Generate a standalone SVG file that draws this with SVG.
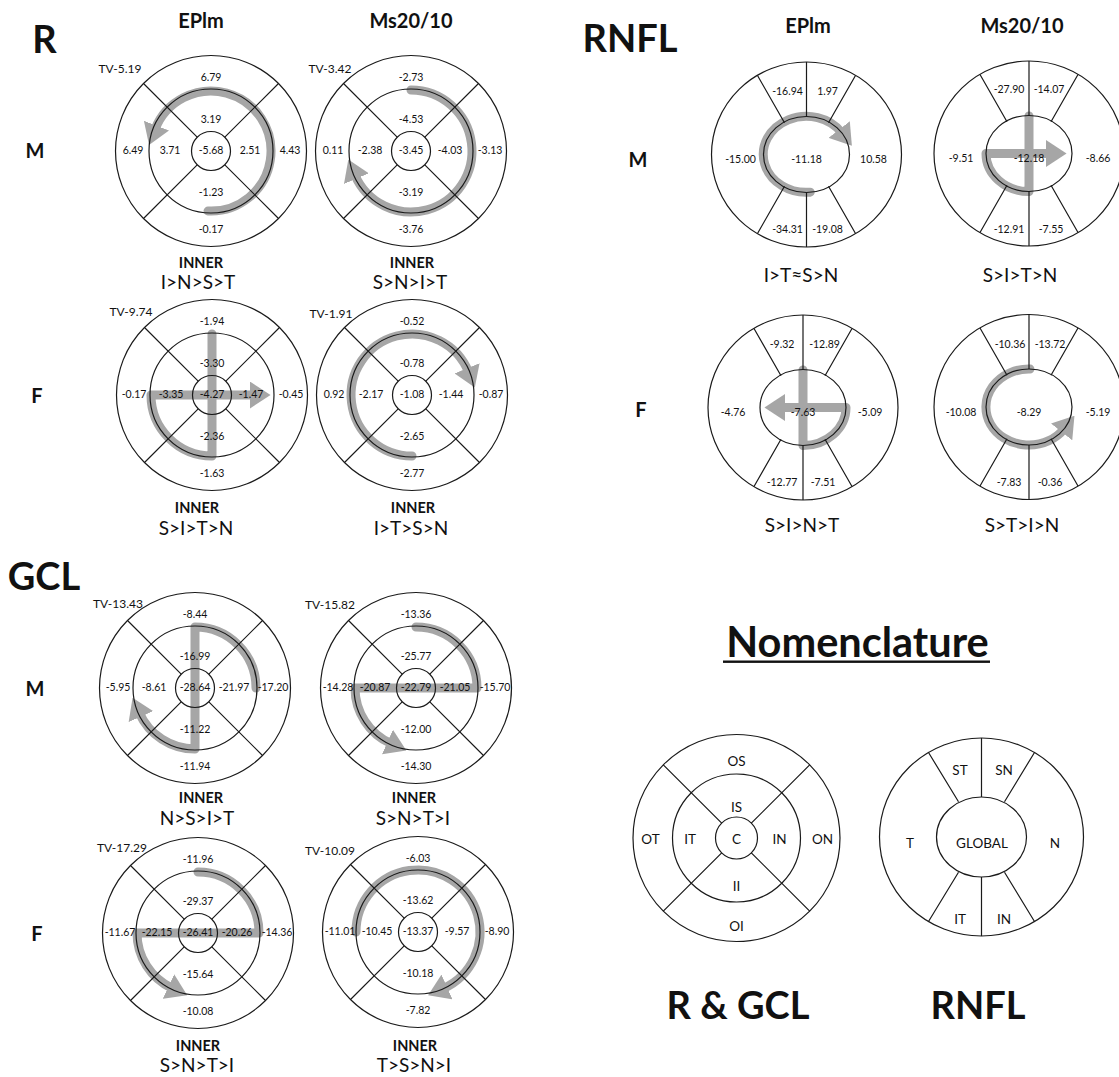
<svg xmlns="http://www.w3.org/2000/svg" width="1119" height="1077" viewBox="0 0 1119 1077">
<style>
.arw{fill:none;stroke:#a6a6a6;stroke-width:9;stroke-linecap:round;stroke-linejoin:round;marker-end:url(#ah)}
text{font-family:Lato,"Open Sans","Liberation Sans",sans-serif;fill:#111;text-anchor:middle;dominant-baseline:central}
.n{font-size:10.5px}
.tv{font-size:12px}
.big{font-size:38px;font-weight:bold}
.col{font-size:20px;font-weight:bold}
.row{font-size:20px;font-weight:bold}
.inr{font-size:14.5px;font-weight:bold}
.rk{font-size:19px}
.nm{font-size:13.5px}
</style>
<defs>
<marker id="ah" viewBox="0 0 10 10" refX="2" refY="5" markerWidth="2.3" markerHeight="3" orient="auto" markerUnits="strokeWidth" preserveAspectRatio="none"><path d="M0,0L10,5L0,10z" fill="#a6a6a6"/></marker>
<g id="ring4" fill="none" stroke="#1a1a1a" stroke-width="1.2">
<circle r="95.5"/><circle r="62"/><circle r="19.5"/>
<path d="M13.8,-13.8L67.5,-67.5M-13.8,-13.8L-67.5,-67.5M13.8,13.8L67.5,67.5M-13.8,13.8L-67.5,67.5"/>
</g>
<g id="ringN" fill="none" stroke="#1a1a1a" stroke-width="1.2">
<ellipse rx="95" ry="92.5"/><ellipse rx="43" ry="38"/>
<path d="M0,-38V-92.5M0,38V92.5M-22,-31.8L-49,-79M22,-31.8L49,-79M-22,31.8L-49,79M22,31.8L49,79"/>
</g>
</defs>
<rect width="1119" height="1077" fill="#fff"/>

<!-- Section titles -->
<text class="big" x="44.5" y="38">R</text>
<text class="big" x="44" y="575">GCL</text>
<text class="big" x="630" y="37">RNFL</text>
<text class="col" x="201" y="20">EPlm</text>
<text class="col" x="411" y="20">Ms20/10</text>
<text class="col" x="808" y="25">EPlm</text>
<text class="col" x="1022" y="25">Ms20/10</text>
<text class="row" x="35" y="150">M</text>
<text class="row" x="37" y="395">F</text>
<text class="row" x="35" y="688">M</text>
<text class="row" x="37" y="933">F</text>
<text class="row" x="638" y="159">M</text>
<text class="row" x="641" y="409">F</text>

<!-- R M EPlm -->
<g id="r-m-eplm">
<g transform="translate(211,151)">
<path class="arw" d="M-3,60A60,60 0 1 0 -56,-21.5"/>
<use href="#ring4"/>
<text class="n" x="0" y="-74">6.79</text><text class="n" x="0" y="-32">3.19</text>
<text class="n" x="-78" y="-1">6.49</text><text class="n" x="-41" y="-1">3.71</text>
<text class="n" x="0" y="-1">-5.68</text><text class="n" x="39" y="-1">2.51</text>
<text class="n" x="79" y="-1">4.43</text><text class="n" x="0" y="41">-1.23</text>
<text class="n" x="0" y="78">-0.17</text>
</g>
<text class="tv" x="120" y="68">TV-5.19</text>
<text class="inr" x="201" y="262">INNER</text>
<text class="rk" x="198" y="281">I&gt;N&gt;S&gt;T</text>
</g>

<!-- R M Ms -->
<g id="r-m-ms">
<g transform="translate(411,151)">
<path class="arw" d="M0,-61A61,61 0 1 1 -56.2,23.8"/>
<use href="#ring4"/>
<text class="n" x="0" y="-74">-2.73</text><text class="n" x="0" y="-32">-4.53</text>
<text class="n" x="-78" y="-1">0.11</text><text class="n" x="-41" y="-1">-2.38</text>
<text class="n" x="0" y="-1">-3.45</text><text class="n" x="39" y="-1">-4.03</text>
<text class="n" x="79" y="-1">-3.13</text><text class="n" x="0" y="41">-3.19</text>
<text class="n" x="0" y="78">-3.76</text>
</g>
<text class="tv" x="330" y="68">TV-3.42</text>
<text class="inr" x="412" y="262">INNER</text>
<text class="rk" x="410" y="281">S&gt;N&gt;I&gt;T</text>
</g>

<!-- R F EPlm -->
<g id="r-f-eplm">
<g transform="translate(212,395)">
<path class="arw" d="M0,-61L0,61A61,61 0 0 1 -61,0L42,0"/>
<use href="#ring4"/>
<text class="n" x="0" y="-74">-1.94</text><text class="n" x="0" y="-32">-3.30</text>
<text class="n" x="-78" y="-1">-0.17</text><text class="n" x="-41" y="-1">-3.35</text>
<text class="n" x="0" y="-1">-4.27</text><text class="n" x="39" y="-1">-1.47</text>
<text class="n" x="79" y="-1">-0.45</text><text class="n" x="0" y="41">-2.36</text>
<text class="n" x="0" y="78">-1.63</text>
</g>
<text class="tv" x="131" y="311">TV-9.74</text>
<text class="inr" x="197" y="507">INNER</text>
<text class="rk" x="196" y="527">S&gt;I&gt;T&gt;N</text>
</g>

<!-- R F Ms -->
<g id="r-f-ms">
<g transform="translate(412,395)">
<path class="arw" d="M0,61A61,61 0 1 1 56.6,-22.9"/>
<use href="#ring4"/>
<text class="n" x="0" y="-74">-0.52</text><text class="n" x="0" y="-32">-0.78</text>
<text class="n" x="-78" y="-1">0.92</text><text class="n" x="-41" y="-1">-2.17</text>
<text class="n" x="0" y="-1">-1.08</text><text class="n" x="39" y="-1">-1.44</text>
<text class="n" x="79" y="-1">-0.87</text><text class="n" x="0" y="41">-2.65</text>
<text class="n" x="0" y="78">-2.77</text>
</g>
<text class="tv" x="331" y="313">TV-1.91</text>
<text class="inr" x="413" y="507">INNER</text>
<text class="rk" x="411" y="527">I&gt;T&gt;S&gt;N</text>
</g>

<!-- GCL M EPlm -->
<g id="gcl-m-eplm">
<g transform="translate(195,688)">
<path class="arw" d="M61,0A61,61 0 0 0 0,-61L0,61A61,61 0 0 1 -55.7,24.8"/>
<use href="#ring4"/>
<text class="n" x="0" y="-74">-8.44</text><text class="n" x="0" y="-32">-16.99</text>
<text class="n" x="-77" y="-1">-5.95</text><text class="n" x="-41" y="-1">-8.61</text>
<text class="n" x="0" y="-1">-28.64</text><text class="n" x="39" y="-1">-21.97</text>
<text class="n" x="78" y="-1">-17.20</text><text class="n" x="0" y="41">-11.22</text>
<text class="n" x="0" y="78">-11.94</text>
</g>
<text class="tv" x="118" y="603">TV-13.43</text>
<text class="inr" x="201" y="797">INNER</text>
<text class="rk" x="197" y="817">N&gt;S&gt;I&gt;T</text>
</g>

<!-- GCL M Ms -->
<g id="gcl-m-ms">
<g transform="translate(416,688)">
<path class="arw" d="M0,-61A61,61 0 0 1 61,0L-61,0A61,61 0 0 0 -24.8,55.7"/>
<use href="#ring4"/>
<text class="n" x="0" y="-74">-13.36</text><text class="n" x="0" y="-32">-25.77</text>
<text class="n" x="-78" y="-1">-14.28</text><text class="n" x="-41" y="-1">-20.87</text>
<text class="n" x="0" y="-1">-22.79</text><text class="n" x="39" y="-1">-21.05</text>
<text class="n" x="79" y="-1">-15.70</text><text class="n" x="0" y="41">-12.00</text>
<text class="n" x="0" y="78">-14.30</text>
</g>
<text class="tv" x="330" y="604">TV-15.82</text>
<text class="inr" x="414" y="797">INNER</text>
<text class="rk" x="413" y="817">S&gt;N&gt;T&gt;I</text>
</g>

<!-- GCL F EPlm -->
<g id="gcl-f-eplm">
<g transform="translate(198,933)">
<path class="arw" d="M0,-61A61,61 0 0 1 61,0L-61,0A61,61 0 0 0 -25.8,55.3"/>
<use href="#ring4"/>
<text class="n" x="0" y="-74">-11.96</text><text class="n" x="0" y="-32">-29.37</text>
<text class="n" x="-78" y="-1">-11.67</text><text class="n" x="-41" y="-1">-22.15</text>
<text class="n" x="0" y="-1">-26.41</text><text class="n" x="39" y="-1">-20.26</text>
<text class="n" x="79" y="-1">-14.36</text><text class="n" x="0" y="41">-15.64</text>
<text class="n" x="0" y="78">-10.08</text>
</g>
<text class="tv" x="122" y="847">TV-17.29</text>
<text class="inr" x="198" y="1045">INNER</text>
<text class="rk" x="197" y="1064">S&gt;N&gt;T&gt;I</text>
</g>

<!-- GCL F Ms -->
<g id="gcl-f-ms">
<g transform="translate(418,932)">
<path class="arw" d="M-62,0A62,62 0 1 1 25.2,56.6"/>
<use href="#ring4"/>
<text class="n" x="0" y="-74">-6.03</text><text class="n" x="0" y="-32">-13.62</text>
<text class="n" x="-78" y="-1">-11.01</text><text class="n" x="-41" y="-1">-10.45</text>
<text class="n" x="0" y="-1">-13.37</text><text class="n" x="39" y="-1">-9.57</text>
<text class="n" x="79" y="-1">-8.90</text><text class="n" x="0" y="41">-10.18</text>
<text class="n" x="0" y="78">-7.82</text>
</g>
<text class="tv" x="330" y="850">TV-10.09</text>
<text class="inr" x="415" y="1045">INNER</text>
<text class="rk" x="414" y="1064">T&gt;S&gt;N&gt;I</text>
</g>

<!-- RNFL M EPlm -->
<g id="rnfl-m-eplm">
<g transform="translate(806.5,154.5)">
<path class="arw" d="M3.7,37.7A43,38 0 1 1 35.2,-21.7"/>
<use href="#ringN"/>
<text class="n" x="-19" y="-64">-16.94</text><text class="n" x="21" y="-64">1.97</text>
<text class="n" x="-66" y="4.5">-15.00</text><text class="n" x="0" y="4.5">-11.18</text>
<text class="n" x="67" y="4.5">10.58</text>
<text class="n" x="-19" y="74">-34.31</text><text class="n" x="21" y="74">-19.08</text>
</g>
<text class="rk" x="801" y="274">I&gt;T≈S&gt;N</text>
</g>

<!-- RNFL M Ms -->
<g id="rnfl-m-ms">
<g transform="translate(1029,153.5)">
<path class="arw" d="M0,-37.5L0,38A43,38 0 0 1 -43,0L21,0"/>
<use href="#ringN"/>
<text class="n" x="-20" y="-65">-27.90</text><text class="n" x="20" y="-65">-14.07</text>
<text class="n" x="-68" y="4">-9.51</text><text class="n" x="0" y="4">-12.18</text>
<text class="n" x="69" y="4">-8.66</text>
<text class="n" x="-20" y="75">-12.91</text><text class="n" x="22" y="75">-7.55</text>
</g>
<text class="rk" x="1020" y="274">S&gt;I&gt;T&gt;N</text>
</g>

<!-- RNFL F EPlm -->
<g id="rnfl-f-eplm">
<g transform="translate(803,407.5)">
<path class="arw" d="M0,-37.5L0,38A43,38 0 0 0 43,0L-22,0"/>
<use href="#ringN"/>
<text class="n" x="-21" y="-64">-9.32</text><text class="n" x="21.5" y="-64">-12.89</text>
<text class="n" x="-70" y="4.2">-4.76</text><text class="n" x="0" y="4.2">-7.63</text>
<text class="n" x="67" y="4.2">-5.09</text>
<text class="n" x="-21" y="74">-12.77</text><text class="n" x="20" y="74">-7.51</text>
</g>
<text class="rk" x="802" y="524">S&gt;I&gt;N&gt;T</text>
</g>

<!-- RNFL F Ms -->
<g id="rnfl-f-ms">
<g transform="translate(1029,407)">
<path class="arw" d="M1,-38A43,38 0 1 0 35.2,21.7"/>
<use href="#ringN"/>
<text class="n" x="-19" y="-63.5">-10.36</text><text class="n" x="21" y="-63.5">-13.72</text>
<text class="n" x="-68" y="4.7">-10.08</text><text class="n" x="0" y="4.7">-8.29</text>
<text class="n" x="69" y="4.7">-5.19</text>
<text class="n" x="-20" y="75">-7.83</text><text class="n" x="21" y="75">-0.36</text>
</g>
<text class="rk" x="1022" y="524">S&gt;T&gt;I&gt;N</text>
</g>

<!-- Nomenclature -->
<g id="nomenclature-title">
<text x="857.5" y="641" style="font-size:41.5px;font-weight:bold">Nomenclature</text>
<rect x="723" y="660.5" width="267" height="2.4" fill="#111"/>
</g>

<g id="nom-r-gcl">
<g transform="translate(736.5,838)">
<g fill="none" stroke="#1a1a1a" stroke-width="1.2">
<circle r="103.5"/><circle r="64"/><circle r="21"/>
<path d="M14.8,-14.8L73.2,-73.2M-14.8,-14.8L-73.2,-73.2M14.8,14.8L73.2,73.2M-14.8,14.8L-73.2,73.2"/>
</g>
<text class="nm" x="0" y="-77">OS</text>
<text class="nm" x="0" y="-31">IS</text>
<text class="nm" x="-86" y="1">OT</text>
<text class="nm" x="-46.5" y="1">IT</text>
<text class="nm" x="0" y="1">C</text>
<text class="nm" x="43" y="1">IN</text>
<text class="nm" x="86" y="1">ON</text>
<text class="nm" x="0" y="48">II</text>
<text class="nm" x="0" y="88">OI</text>
</g>
<text class="big" x="738" y="1004">R &amp; GCL</text>
</g>

<g id="nom-rnfl">
<g transform="translate(981.5,837)">
<g fill="none" stroke="#1a1a1a" stroke-width="1.2">
<ellipse rx="102" ry="99"/><ellipse rx="45" ry="40"/>
<path d="M0,-40V-99M0,40V99M-23,-35.3L-53.3,-85M23,-35.3L53.3,-85M-23,35.3L-53.3,85M23,35.3L53.3,85"/>
</g>
<text class="nm" x="-21.5" y="-67">ST</text>
<text class="nm" x="22.5" y="-67">SN</text>
<text class="nm" x="-71.5" y="6">T</text>
<text class="nm" x="0.5" y="6">GLOBAL</text>
<text class="nm" x="73.5" y="6">N</text>
<text class="nm" x="-21.5" y="82">IT</text>
<text class="nm" x="22.5" y="82">IN</text>
</g>
<text class="big" x="978" y="1004">RNFL</text>
</g>
</svg>
